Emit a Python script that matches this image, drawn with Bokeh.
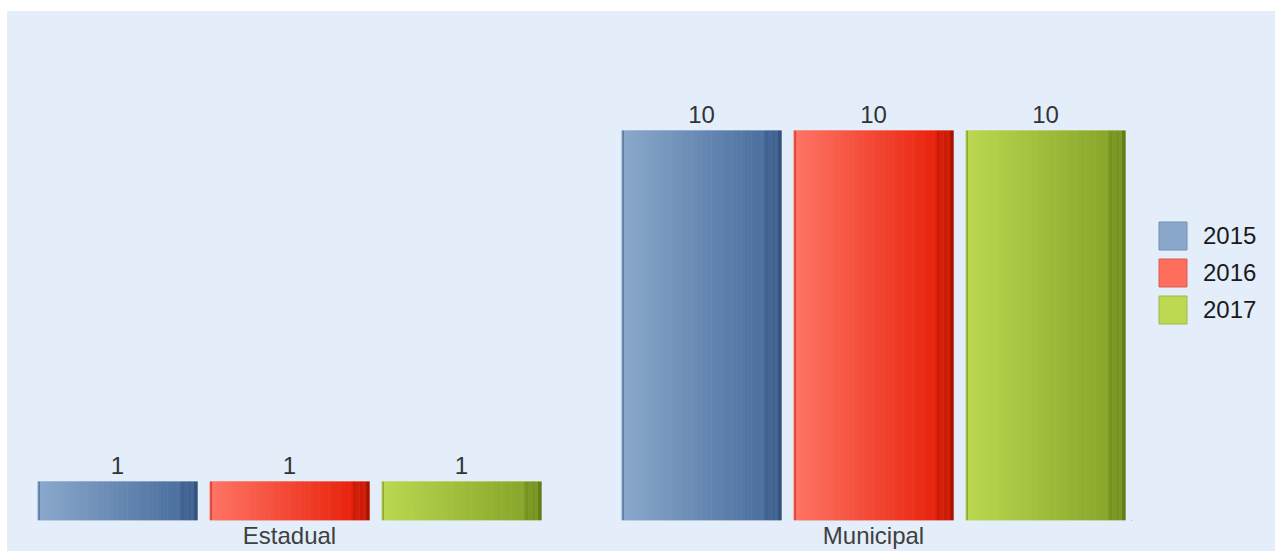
from bokeh.plotting import figure
from bokeh.models import (FactorRange, Range1d, ColumnDataSource, Legend, LegendItem,
                          LabelSet, Spacer)
from bokeh.layouts import column, row
from bokeh.embed import file_html
from bokeh.resources import INLINE
from bokeh.core.properties import value

# ---- data ----
groups = ["Estadual", "Municipal"]
years = ["2015", "2016", "2017"]
values_2015 = [1, 10]
values_2016 = [1, 10]
values_2017 = [1, 10]
series = [values_2015, values_2016, values_2017]

# ---- style ----
legend_colors = ["#8aa8cb", "#ff6f5e", "#bdd851"]
grad_left = ["#8ba9cc", "#ff7666", "#bcd952"]
grad_right = ["#4b6f9e", "#e8220c", "#87a52a"]
grad_dark = ["#34527c", "#a81404", "#627d1c"]
BG = "#e3eefa"
FONT = "Liberation Sans"


def hex2rgb(h):
    h = h.lstrip("#")
    return [int(h[i:i + 2], 16) for i in (0, 2, 4)]


def mix(a, b, t):
    ra, rb = hex2rgb(a), hex2rgb(b)
    return "#%02x%02x%02x" % tuple(int(round(x + (y - x) * t)) for x, y in zip(ra, rb))


p = figure(width=1124, height=540,
           x_range=FactorRange(*groups, factor_padding=68 / 516, range_padding=0),
           y_range=Range1d(0, 12.77),
           output_backend="svg", toolbar_location=None,
           min_border_left=24, min_border_right=0, min_border_top=11, min_border_bottom=31)
p.background_fill_color = BG
p.border_fill_color = BG
p.outline_line_color = None
p.xgrid.visible = False
p.ygrid.visible = False
p.yaxis.visible = False
p.xaxis.axis_line_color = None
p.xaxis.major_tick_line_color = None
p.xaxis.minor_tick_line_color = None
p.xaxis.major_tick_out = 0
p.xaxis.major_tick_in = 0
p.xaxis.major_label_standoff = 1
p.xaxis.major_label_text_font_size = "24px"
p.xaxis.major_label_text_font = FONT
p.xaxis.major_label_text_color = "#404040"

n = len(years)
offs = [(i - (n - 1) / 2) / n for i in range(n)]
bw = 160 / 516
N = 48

for i, yr in enumerate(years):
    src = ColumnDataSource(dict(x=[(g, offs[i]) for g in groups], top=series[i]))
    p.vbar(x="x", top="top", bottom=0, width=bw, source=src,
           fill_color=legend_colors[i], line_color=None)

    xs, tops, cols, ws = [], [], [], []
    for g, v in zip(groups, series[i]):
        for k in range(N):
            t = (k + 0.5) / N
            if k == 0:
                c = mix(grad_left[i], grad_dark[i], 0.6)
            elif t < 0.9:
                c = mix(grad_left[i], grad_right[i], t / 0.9)
            elif k == N - 1:
                c = grad_dark[i]
            else:
                c = mix(grad_right[i], grad_dark[i], 0.45 if k % 2 else 0.3)
            xs.append((g, offs[i] - bw / 2 + (k + 0.5) * bw / N))
            tops.append(v)
            cols.append(c)
            ws.append(bw / N * (0.4 if k == 0 else 1.08))
    ssrc = ColumnDataSource(dict(x=xs, top=tops, c=cols, w=ws))
    p.vbar(x="x", top="top", bottom=0, width="w", source=ssrc,
           fill_color="c", line_color=None)

    lsrc = ColumnDataSource(dict(x=[(g, offs[i]) for g in groups], y=series[i],
                                 t=[str(v) for v in series[i]]))
    p.add_layout(LabelSet(x="x", y="y", text="t", source=lsrc, text_align="center",
                          text_baseline="alphabetic", y_offset=8, text_font_size="24px",
                          text_font=value(FONT), text_color="#333333"))

# legend panel
pl = figure(width=144, height=540, output_backend="svg", toolbar_location=None,
            x_axis_type=None, y_axis_type=None,
            x_range=Range1d(0, 1), y_range=Range1d(0, 1),
            min_border_left=0, min_border_right=0, min_border_top=0, min_border_bottom=0)
pl.background_fill_color = BG
pl.border_fill_color = BG
pl.outline_line_color = None
pl.xgrid.visible = False
pl.ygrid.visible = False
leg_renderers = []
for i, yr in enumerate(years):
    r = pl.vbar(x=[-5], top=[-5], bottom=-5, width=0, fill_color=legend_colors[i],
                line_color=mix(legend_colors[i], "#000000", 0.15), line_width=1)
    leg_renderers.append(r)

legend = Legend(items=[LegendItem(label=yr, renderers=[leg_renderers[i]])
                       for i, yr in enumerate(years)],
                location=(24, 193), margin=0, padding=10,
                glyph_width=35, glyph_height=35, label_standoff=13, spacing=2,
                border_line_color=None, background_fill_alpha=0,
                label_text_font_size="24px", label_text_font=FONT,
                label_text_color="#1a1a1a")
pl.add_layout(legend)

inner = row(p, pl, styles={"background-color": BG})
layout = column(Spacer(height=11), row(Spacer(width=7), inner))

open("out.html", "w").write(file_html(layout, INLINE))
